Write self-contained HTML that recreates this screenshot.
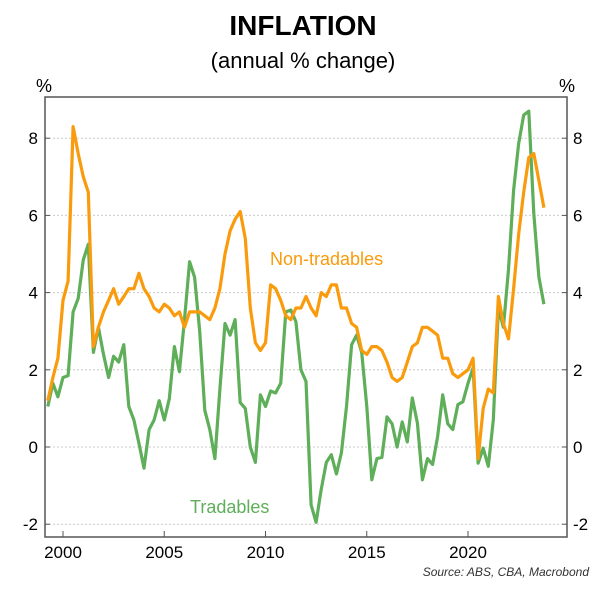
<!DOCTYPE html>
<html><head><meta charset="utf-8"><style>
body{margin:0;background:#fff;width:606px;height:592px;overflow:hidden;font-family:"Liberation Sans",sans-serif}
svg text{font-family:"Liberation Sans",sans-serif}
</style></head><body>
<svg width="606" height="592" xmlns="http://www.w3.org/2000/svg">
<text x="303" y="35" text-anchor="middle" font-size="28" font-weight="bold">INFLATION</text>
<text x="303" y="68" text-anchor="middle" font-size="22">(annual % change)</text>
<text x="44" y="92" text-anchor="middle" font-size="18">%</text>
<text x="567" y="92" text-anchor="middle" font-size="18">%</text>
<g id="grid"></g>
<g id="yl"></g>
<g id="yr"></g>
<g id="xa"></g>
<g id="series"></g>
<rect x="45" y="97" width="522" height="440" fill="none" stroke="#555" stroke-width="1.5"/>
<text x="270" y="265" font-size="18" fill="#f99b0c">Non-tradables</text>
<text x="190" y="513" font-size="18" fill="#5fae5a">Tradables</text>
<text x="589" y="576" text-anchor="end" font-size="12" font-style="italic" fill="#333">Source: ABS, CBA, Macrobond</text>
</svg>
<script>
const startYear = 1999.25;
const yTicks = [-2, 0, 2, 4, 6, 8];
const xTicks = [2000, 2005, 2010, 2015, 2020];
const nonTradables = [1.2,1.8,2.3,3.8,4.3,8.3,7.6,7.0,6.6,2.6,
3.1,3.5,3.8,4.1,3.7,3.9,4.1,4.1,4.5,4.1,3.9,3.6,3.5,3.7,3.6,3.4,3.5,3.1,3.5,3.5,3.5,3.4,3.3,3.6,4.1,5.0,5.6,
5.9,6.1,5.4,3.6,2.7,2.5,2.7,4.2,4.1,3.8,3.4,3.3,3.6,3.6,3.9,3.6,3.4,4.0,3.9,4.2,4.2,3.6,3.6,3.2,3.1,2.5,2.4,2.6,2.6,2.5,2.2,1.8,1.7,1.8,2.2,2.6,2.7,3.1,3.1,3.0,2.9,2.3,2.3,1.9,1.8,1.9,2.0,2.3,-0.3,1.0,1.5,1.4,3.9,3.2,2.8,4.1,5.5,6.6,7.5,7.6,6.9,6.2];
const tradables = [1.05,1.65,1.3,1.8,1.85,3.5,3.85,4.85,5.25,2.45,
3.1,2.4,1.8,2.35,2.2,2.65,1.05,0.7,0.1,-0.55,0.45,0.7,1.2,0.7,1.25,2.6,1.95,3.3,4.8,4.4,3.0,0.95,0.45,-0.3,1.5,3.2,2.9,3.3,1.15,1.0,0.0,-0.4,1.35,1.05,1.45,1.4,1.65,3.5,3.55,3.25,
2.0,1.7,-1.5,-1.95,-1.1,-0.4,-0.2,-0.7,-0.15,1.05,2.65,2.9,2.45,1.05,-0.85,-0.3,-0.27,0.78,0.6,0.0,0.65,0.13,1.27,0.62,-0.85,-0.3,-0.45,0.27,1.35,0.6,0.45,1.1,1.17,1.65,2.05,-0.42,-0.03,-0.5,0.7,3.6,3.1,4.6,6.65,7.85,8.6,8.7,6.05,4.4,3.7];
const NS='http://www.w3.org/2000/svg';
function xs(t){return 63+(t-2000)*20.25;}
function ys(v){return 447-v*38.6;}
function mk(tag,attrs,parent){const e=document.createElementNS(NS,tag);for(const k in attrs)e.setAttribute(k,attrs[k]);parent.appendChild(e);return e;}
const grid=document.getElementById('grid'),yl=document.getElementById('yl'),yr=document.getElementById('yr'),xa=document.getElementById('xa'),ser=document.getElementById('series');
yTicks.forEach(v=>{
  const g=mk('line',{x1:45,x2:567,y1:ys(v),y2:ys(v),stroke:'#ccc','stroke-dasharray':'2,2','stroke-width':1},grid);
  
  
  const t1=mk('line',{x1:45,x2:50,y1:ys(v),y2:ys(v),stroke:'#555'},yl);
  
  
  const l=mk('text',{x:38,y:ys(v)+6,'text-anchor':'end','font-size':17},yl);l.textContent=v;
  
  
  const t2=mk('line',{x1:562,x2:567,y1:ys(v),y2:ys(v),stroke:'#555'},yr);
  
  
  const r=mk('text',{x:573,y:ys(v)+6,'text-anchor':'start','font-size':17},yr);r.textContent=v;
  
  
});
xTicks.forEach(t=>{
  const k=mk('line',{x1:xs(t),x2:xs(t),y1:531,y2:537,stroke:'#555'},xa);
  
  
  const l=mk('text',{x:xs(t),y:558,'text-anchor':'middle','font-size':17},xa);l.textContent=t;
  
  
});
function line(arr,color,name){
  const d=arr.map((v,i)=>(i?'L':'M')+xs(startYear+i*0.25).toFixed(1)+','+ys(v).toFixed(1)).join('');
  const p=mk('path',{d:d,fill:'none',stroke:color,'stroke-width':3.2,'stroke-linejoin':'round'},ser);
  
  
}
line(tradables,'#5fae5a','tradables-line');
line(nonTradables,'#f99b0c','non-tradables-line');
</script>
</body></html>
